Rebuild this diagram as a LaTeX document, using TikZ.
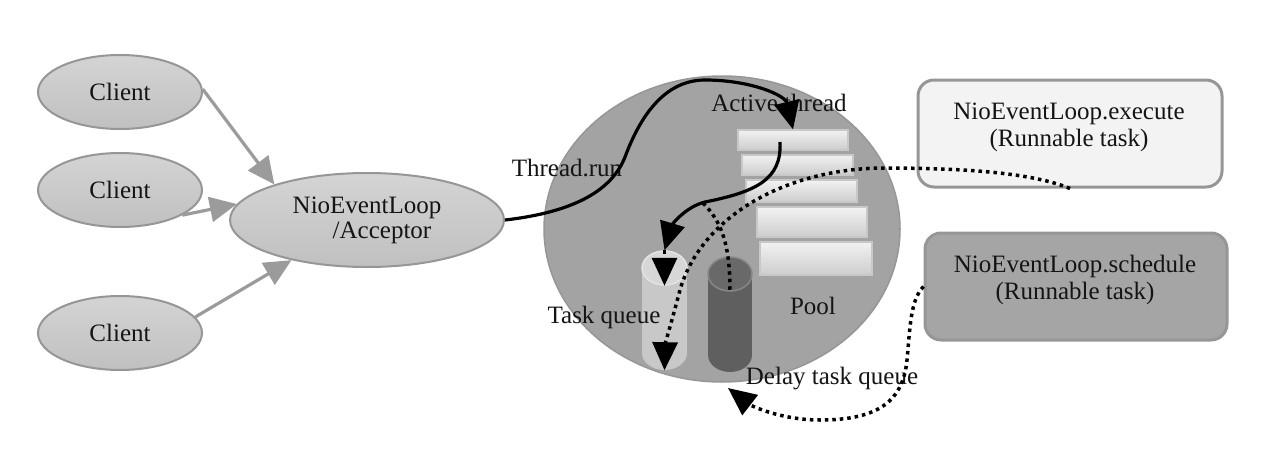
\documentclass[tikz,border=0pt]{standalone}
\usepackage{fontspec}
\setmainfont{Liberation Serif}
\usetikzlibrary{arrows.meta,shapes.geometric}
\definecolor{cliBorder}{RGB}{150,150,150}
\definecolor{cliTop}{RGB}{212,212,212}
\definecolor{cliBot}{RGB}{192,192,192}
\definecolor{circFill}{RGB}{163,163,163}
\definecolor{circBorder}{RGB}{150,150,150}
\definecolor{execFill}{RGB}{243,243,243}
\definecolor{boxBorder}{RGB}{150,150,150}
\definecolor{schedFill}{RGB}{165,165,165}
\definecolor{poolTop}{RGB}{242,242,242}
\definecolor{poolBot}{RGB}{205,205,205}
\definecolor{poolBorder}{RGB}{200,200,200}
\definecolor{tqBody}{RGB}{200,200,200}
\definecolor{tqTop}{RGB}{215,215,215}
\definecolor{tqRim}{RGB}{228,228,228}
\definecolor{dqBody}{RGB}{95,95,95}
\definecolor{dqTop}{RGB}{105,105,105}
\definecolor{dqRim}{RGB}{135,135,135}
\definecolor{txt}{RGB}{20,20,20}
\definecolor{grayArrow}{RGB}{155,155,155}
\begin{document}
\begin{tikzpicture}[x=1pt,y=-1pt,
  font=\fontsize{25}{26}\selectfont, text=txt,
  clientnode/.style={ellipse, draw=cliBorder, line width=2pt, top color=cliTop, bottom color=cliBot, minimum width=164pt, minimum height=74pt, inner sep=0pt},
  accnode/.style={ellipse, draw=cliBorder, line width=2pt, top color=cliTop, bottom color=cliBot, minimum width=274pt, minimum height=94pt, inner sep=0pt, align=center},
  poolrect/.style={rectangle, draw=poolBorder, line width=1.2pt, top color=poolTop, bottom color=poolBot, inner sep=0pt},
  taskbox/.style={rectangle, rounded corners=16pt, draw=boxBorder, line width=3pt, inner sep=0pt},
  grayarrow/.style={draw=grayArrow, line width=3.2pt, -{Triangle[length=27pt,width=25pt]}, color=grayArrow},
  solidarrow/.style={draw=black, line width=3.2pt, -{Triangle[length=28pt,width=25pt]}},
  dotline/.style={draw=black, line width=3.5pt, dash pattern=on 3.5pt off 4pt},
  dotarrow/.style={dotline, -{Triangle[length=28pt,width=25pt]}},
  cylend/.style={ellipse, inner sep=0pt},
  lbl/.style={inner sep=0pt}
]
\useasboundingbox (0,0) rectangle (1284,460);

% clients and acceptor
\node[clientnode] (c1) at (120,92) {Client};
\node[clientnode] (c2) at (120,190) {Client};
\node[clientnode] (c3) at (120,333) {Client};
\node[accnode] (acc) at (367,220) {NioEventLoop\\[-1pt]\hspace*{30pt}/Acceptor};

\draw[grayarrow] (c1.2) -- (acc.159);
\draw[grayarrow] (c2.-22) -- (acc.173);
\draw[grayarrow] (c3.12) -- (acc.208);

% big circle
\node[ellipse, draw=circBorder, line width=1.5pt, fill=circFill, minimum width=356pt, minimum height=306pt, inner sep=0pt] (circ) at (722,229) {};

% pool rectangles
\node[poolrect, minimum width=110pt, minimum height=20pt] (p1) at (793,140) {};
\node[poolrect, minimum width=111pt, minimum height=20pt] (p2) at (797.5,165) {};
\node[poolrect, minimum width=111pt, minimum height=22pt] (p3) at (801.5,191) {};
\node[poolrect, minimum width=110pt, minimum height=30pt] (p4) at (812,222) {};
\node[poolrect, minimum width=112pt, minimum height=33pt] (p5) at (816,258.5) {};

% task queue cylinder
\fill[tqBody] (642,268) rectangle (687,353);
\node[cylend, fill=tqBody, minimum width=45pt, minimum height=34pt] (tqbot) at (664.5,353) {};
\node[cylend, fill=tqTop, draw=tqRim, line width=1.5pt, minimum width=45pt, minimum height=34pt] (tq) at (664.5,268) {};

% delay queue cylinder
\fill[dqBody] (708,274) rectangle (752,355);
\node[cylend, fill=dqBody, minimum width=44pt, minimum height=34pt] (dqbot) at (730,355) {};
\node[cylend, fill=dqTop, draw=dqRim, line width=1.5pt, minimum width=44pt, minimum height=34pt] (dq) at (730,274) {};

% right boxes
\node[taskbox, fill=execFill, minimum width=304pt, minimum height=107pt] (exec) at (1070,133.5) {};
\node[lbl, align=center] (exectxt) at (1069,127) {NioEventLoop.execute\\[1pt](Runnable task)};
\node[taskbox, fill=schedFill, minimum width=302pt, minimum height=107pt] (sched) at (1076,286.5) {};
\node[lbl, align=center] (schedtxt) at (1075,280) {NioEventLoop.schedule\\[1pt](Runnable task)};

% labels
\node[lbl] (lactive) at (779,103) {Active thread};
\node[lbl] (lrun) at (567,168) {Thread.run};
\node[lbl] (ltask) at (604,317) {Task queue};
\node[lbl] (lpool) at (813,306) {Pool};
\node[lbl] (ldelay) at (832,379) {Delay task queue};

% coordinates
\coordinate (s2) at (780,142);
\coordinate (mid) at (703,203);
\coordinate (dqin) at (728,388);

% connectors
\draw[solidarrow] (acc.east) .. controls (575,212) and (612,190) .. (625,157)
  .. controls (637,125) and (660,80) .. (705,80)
  .. controls (750,80) and (785,95) .. (p1.north);
\draw[solidarrow] (s2) .. controls (782,180) and (755,192) .. (705,202)
  .. controls (685,207) and (672,225) .. (tq.north);
\draw[dotarrow] (tq.north) -- (tq.south);
\draw[dotline] (mid) .. controls (722,222) and (730,245) .. (dq.south);
\draw[dotarrow] (exec.south) .. controls (1030,172) and (960,168) .. (880,168)
  .. controls (780,170) and (700,220) .. (680,290)
  .. controls (672,320) and (665,345) .. (tqbot.south);
\draw[dotarrow] (sched.west) .. controls (910,300) and (910,330) .. (907,360)
  .. controls (903,400) and (880,420) .. (820,420)
  .. controls (780,420) and (750,405) .. (dqin);
\end{tikzpicture}
\end{document}
